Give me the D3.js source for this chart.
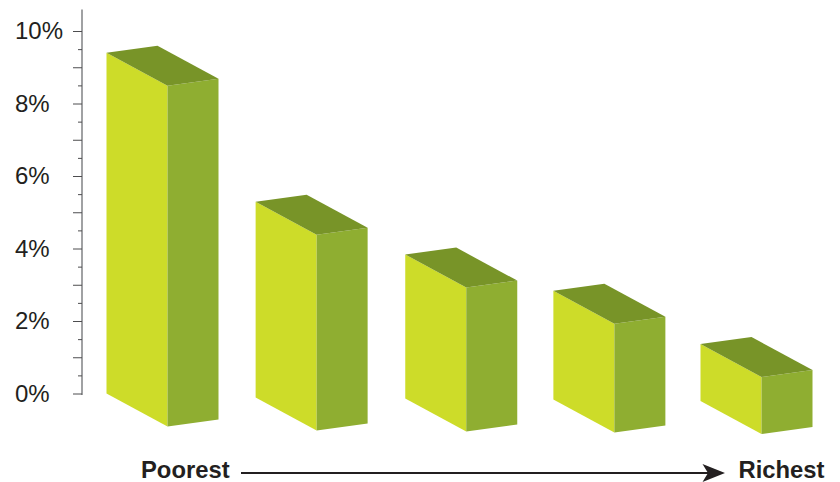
<!DOCTYPE html>
<html>
<head>
<meta charset="utf-8">
<script src="https://cdn.jsdelivr.net/npm/d3@7"></script>
<style>
  html, body { margin: 0; padding: 0; background: #fff; }
  svg { display: block; }
  text { font-family: "Liberation Sans", Arial, sans-serif; fill: #231f20; }
</style>
</head>
<body>
<script>
// values
var groups = [1, 2, 3, 4, 5];
var shares = [9.4, 5.4, 3.97, 3.0, 1.57];
var baseDrift = [0, 4, 5, 6, 7.5];   // the floor of the drawing sinks a little to the right
var sideDrift = [0, 0.5, 1.5, 1, -0.5];   // the boxes are not quite evenly spaced either
var labelTicks = [0, 2, 4, 6, 8, 10];
var majorTicks = [0, 1, 2, 3, 4, 5, 6, 7, 8, 9, 10];
var minorTicks = [0.5, 1.5, 2.5, 3.5, 4.5, 5.5, 6.5, 7.5, 8.5, 9.5];
var leftLabel = "Poorest", rightLabel = "Richest";

var width = 840, height = 482;
var svg = d3.select("body").append("svg").attr("width", width).attr("height", height);

var y = d3.scaleLinear().domain([0, 10]).range([393.5, 31]);
var x = d3.scalePoint().domain(groups).range([106.5, 701]);
var drift = d3.scaleOrdinal().domain(groups).range(baseDrift);
var nudge = d3.scaleOrdinal().domain(groups).range(sideDrift);

// box projection, in px
var depthX = 61, depthY = 33, sideX = 51, sideY = -7;
var line = d3.line();

function faces(g, i) {
  var x0 = x(g) + nudge(g), b = y(0) + drift(g), t = b - (y(0) - y(shares[i]));
  var front = [[x0, t], [x0 + depthX, t + depthY], [x0 + depthX, b + depthY], [x0, b]];
  var side = [[x0 + depthX, t + depthY], [x0 + depthX + sideX, t + depthY + sideY],
              [x0 + depthX + sideX, b + depthY + sideY], [x0 + depthX, b + depthY]];
  var top = [[x0, t], [x0 + sideX, t + sideY], [x0 + sideX + depthX, t + sideY + depthY], [x0 + depthX, t + depthY]];
  return [{ p: front, c: "#cddc29" }, { p: side, c: "#8fae31" }, { p: top, c: "#789428" }];
}

svg.selectAll("g.box").data(groups).enter().append("g").attr("class", "box")
  .selectAll("path").data(function(g, i) { return faces(g, i); }).enter().append("path")
  .attr("d", function(d) { return line(d.p) + "Z"; })
  .attr("fill", function(d) { return d.c; });

// y axis: spine, long ticks, short ticks, labels
svg.append("line").attr("x1", 82).attr("x2", 82).attr("y1", 9.5).attr("y2", y(0) + 1.5)
  .attr("stroke", "#808285").attr("stroke-width", 1.5);

var major = svg.append("g").attr("transform", "translate(82,0)")
  .call(d3.axisLeft(y).tickValues(majorTicks).tickSize(9).tickSizeOuter(0).tickFormat(""));
major.select(".domain").remove();
major.selectAll("line").attr("stroke", "#4d4d4f").attr("stroke-width", 1);

var minor = svg.append("g").attr("transform", "translate(82,0)")
  .call(d3.axisLeft(y).tickValues(minorTicks).tickSize(4).tickSizeOuter(0).tickFormat(""));
minor.select(".domain").remove();
minor.selectAll("line").attr("stroke", "#4d4d4f").attr("stroke-width", 1);

svg.selectAll("text.ylab").data(labelTicks).enter().append("text").attr("class", "ylab")
  .attr("x", 15).attr("y", function(d) { return y(d) + 8; })
  .attr("font-size", 24)
  .text(function(d) { return d + "%"; });

// direction arrow along the bottom
svg.append("text").attr("x", 141).attr("y", 478).attr("font-size", 23.8).attr("font-weight", "bold").text(leftLabel);
svg.append("text").attr("x", 738.5).attr("y", 478).attr("font-size", 23.8).attr("font-weight", "bold").text(rightLabel);
svg.append("line").attr("x1", 241).attr("x2", 712).attr("y1", 473).attr("y2", 473)
  .attr("stroke", "#231f20").attr("stroke-width", 2);
svg.append("path")
  .attr("d", line([[725, 473], [702.5, 464], [708, 473], [702.5, 482]]) + "Z")
  .attr("fill", "#231f20");
</script>
</body>
</html>
